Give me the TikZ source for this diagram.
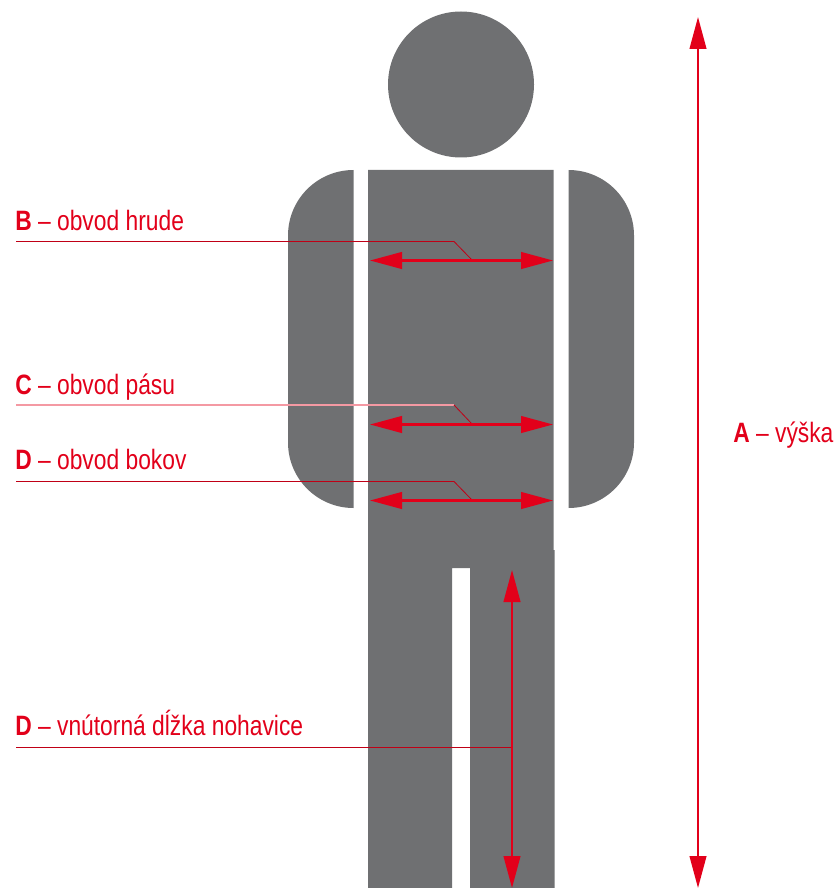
\documentclass[tikz,border=0pt]{standalone}
\usepackage{fontspec}
\setmainfont[FakeStretch=0.815]{Liberation Sans}
\usetikzlibrary{arrows.meta}
\definecolor{mgray}{RGB}{111,112,114}
\definecolor{mred}{RGB}{226,0,26}

\begin{document}
\begin{tikzpicture}[x=0.75pt,y=-0.75pt,>={Triangle[length=24pt,width=12.5pt]},
    body/.style={fill=mgray,draw=none},
    measure/.style={mred,line width=1.6pt,<->},
    leader/.style={mred!85!black,line width=0.6pt},
    lab/.style={mred,anchor=base west,inner sep=0pt,font=\fontsize{21}{24}\selectfont}]
  \useasboundingbox (0,0) rectangle (837,888);
  % figure
  \fill[body] (461,84.5) circle[radius=73];
  \fill[body] (368,170) -- (553.5,170) -- (553.5,550) -- (554.5,550) -- (554.5,888)
    -- (470,888) -- (470,568) -- (452,568) -- (452,888) -- (368,888) -- cycle;
  \fill[body] (353.5,170) arc[start angle=-90,end angle=-180,radius=65.5] -- (288,442.5)
    arc[start angle=180,end angle=90,radius=65.5] -- cycle;
  \fill[body] (568.5,170) arc[start angle=-90,end angle=0,radius=65.5] -- (634,442.5)
    arc[start angle=0,end angle=90,radius=65.5] -- cycle;
  % end points
  \coordinate (Atop) at (698,17);
  \coordinate (Abot) at (698,888);
  \coordinate (Bl) at (370,260.5);
  \coordinate (Br) at (553,260.5);
  \coordinate (Bm) at (472.5,260.5);
  \coordinate (Cl) at (370,424.5);
  \coordinate (Cr) at (553,424.5);
  \coordinate (Cm) at (472.5,424.5);
  \coordinate (Dl) at (370,500.5);
  \coordinate (Dr) at (553,500.5);
  \coordinate (Dm) at (472.5,500.5);
  \coordinate (Ltop) at (512,570);
  \coordinate (Lbot) at (512,888);
  \coordinate (Lm) at (512,747.5);
  % labels
  \node[lab] (labB) at (15,230) {\textbf{B} – obvod hrude};
  \node[lab] (labC) at (15,394) {\textbf{C} – obvod pásu};
  \node[lab] (labD) at (15,469) {\textbf{D} – obvod bokov};
  \node[lab] (labL) at (15,735) {\textbf{D} – vnútorná dĺžka nohavice};
  \node[lab] (labA) at (733,442) {\textbf{A} – výška};
  % leaders
  \draw[leader] (16,241.5) -- (454,241.5) -- (Bm);
  \draw[leader,mred!40,line width=0.8pt] (16,405) -- (454,405);
  \draw[leader] (454,405) -- (Cm);
  \draw[leader] (16,481.5) -- (454,481.5) -- (Dm);
  \draw[leader] (16,747.5) -- (Lm);
  % arrows
  \draw[measure] (Atop) -- (Abot);
  \draw[measure] (Bl) -- (Br);
  \draw[measure] (Cl) -- (Cr);
  \draw[measure] (Dl) -- (Dr);
  \draw[measure] (Ltop) -- (Lbot);
\end{tikzpicture}
\end{document}
